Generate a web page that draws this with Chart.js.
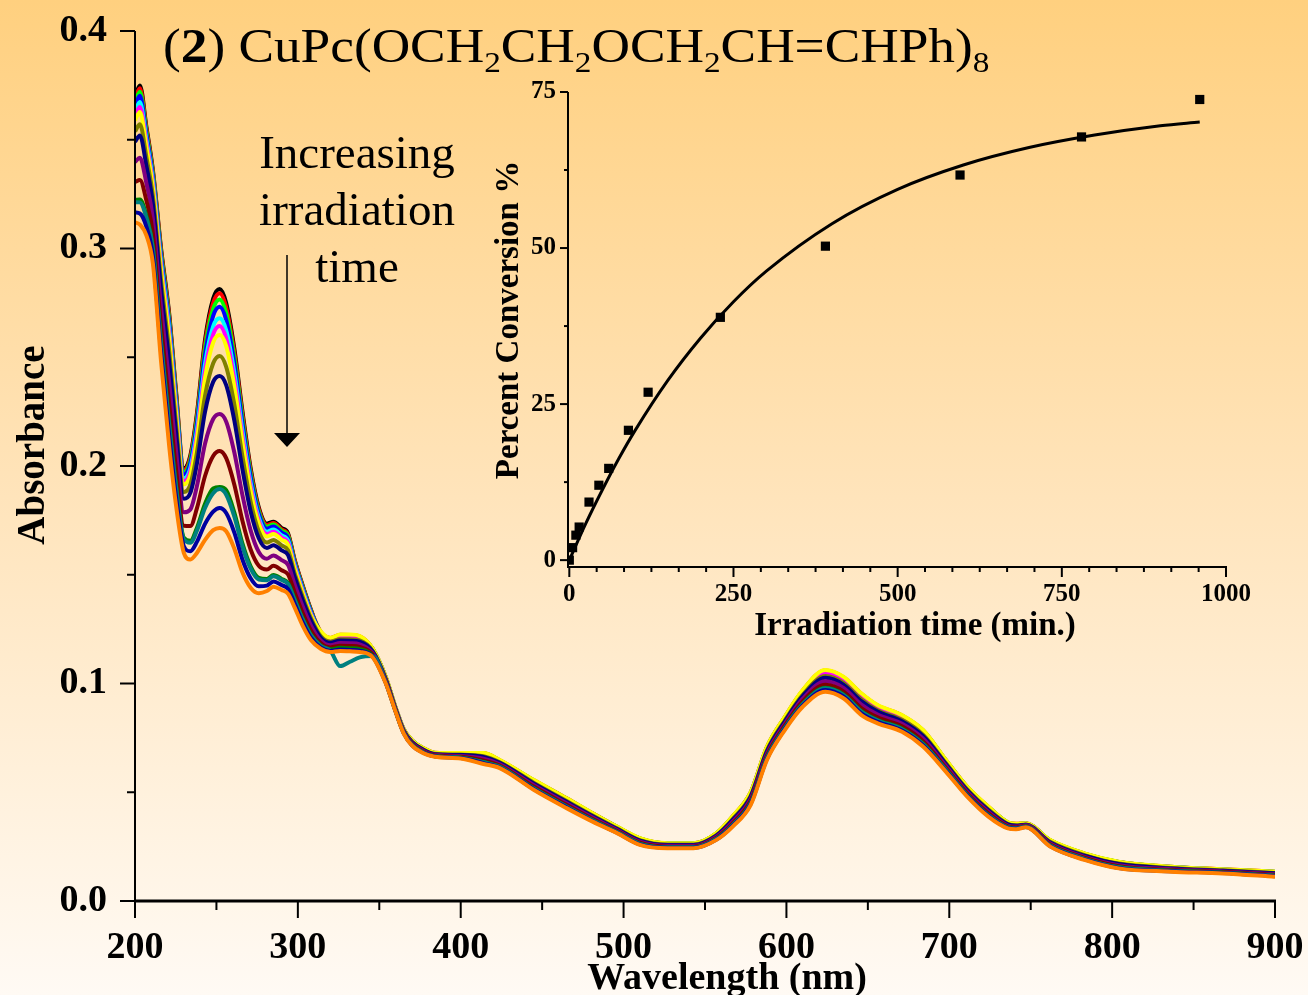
<!DOCTYPE html>
<html lang="en">
<head>
<meta charset="UTF-8">
<title>CuPc photolysis - UV/Vis spectra</title>
<script src="https://cdn.jsdelivr.net/npm/chart.js"></script>
<style>
  html, body { margin: 0; padding: 0; }
  body {
    width: 1308px; height: 995px; overflow: hidden; position: relative;
    background: linear-gradient(to bottom, #ffd07f 0%, #ffe4bb 50%, #fffaf4 100%);
  }
  canvas { position: absolute; left: 0; top: 0; }
</style>
</head>
<body>
<canvas id="spectraChart" width="1308" height="995"></canvas>
<canvas id="insetChart" width="1308" height="995"></canvas>
<script>
// ---- spectra (absorbance vs wavelength, one array per irradiation step) ----
const wavelengths = [200, 203, 207, 211, 216, 221, 225, 230, 234, 238, 243, 248, 252, 256, 261, 266, 271, 276, 281, 285, 290, 294, 298, 303, 308, 314, 320, 326, 332, 338,
  346, 354, 360, 365, 370, 377, 384, 400, 414, 424, 445, 465, 481, 496, 510, 527, 543, 557, 567, 578, 588, 599, 610, 624, 635, 646, 656, 671, 684, 698, 711, 724, 736, 741, 747, 762, 783, 804, 836, 868, 900];

const absBlack = [.370, .375, .356, .336, .300, .270, .236, .199, .205, .224, .258, .277, .2814, .275, .254, .225, .199, .181, .1735, .1744, .1715, .169, .157, .145, .134, .1225, .1198, .1211, .1210, .1204,
  .1152, .1024, .0886, .0786, .0735, .0699, .0678, .0675, .0671, .0641, .0547, .0464, .0397, .0336, .0283, .0262, .0262, .0306, .0381, .0489, .0697, .0835, .0955, .1043, .1012, .0936, .0885, .0840, .0771, .0638, .0517, .0425, .0357, .0350, .0354, .0274, .0213, .0175, .0154, .0142, .0131];
const absRed = [.3688, .3737, .355, .3351, .2990, .2688, .2349, .1982, .2040, .2227, .2562, .2749, .2794, .2729, .2522, .2235, .1979, .1802, .1729, .1738, .1709, .1684, .1566, .1446, .1337, .1238, .1209, .1224, .1223, .1217,
  .1159, .1029, .0890, .0790, .0740, .0703, .0682, .0680, .0679, .0647, .0555, .0472, .0403, .0341, .0288, .0266, .0266, .0311, .0389, .0499, .0708, .0846, .0968, .1060, .1029, .0953, .0899, .0853, .0784, .0647, .0525, .0433, .0361, .0355, .0357, .0279, .0218, .0180, .0158, .0146, .0135];
const absLime = [.3674, .3721, .3538, .3341, .2977, .2673, .2336, .1972, .2028, .2211, .2539, .2722, .2766, .2703, .2499, .2217, .1965, .1792, .1721, .1731, .1702, .1678, .1560, .1442, .1334, .1236, .1207, .1222, .1222, .1215,
  .1158, .1029, .0889, .0789, .0739, .0702, .0681, .0679, .0678, .0646, .0554, .0471, .0402, .0341, .0288, .0265, .0265, .0311, .0388, .0497, .0706, .0844, .0967, .1058, .1027, .0951, .0897, .0852, .0783, .0646, .0524, .0432, .0361, .0354, .0356, .0279, .0218, .0180, .0157, .0145, .0134];
const absBlue = [.3657, .3702, .3523, .3328, .2961, .2654, .2320, .1961, .2014, .2192, .2511, .2690, .2732, .2671, .2471, .2195, .1949, .1780, .1712, .1722, .1694, .1669, .1554, .1436, .1330, .1234, .1205, .1219, .1219, .1213,
  .1157, .1028, .0889, .0789, .0738, .0701, .0681, .0678, .0676, .0645, .0553, .0470, .0401, .0340, .0287, .0264, .0264, .0310, .0386, .0496, .0704, .0842, .0964, .1055, .1024, .0948, .0895, .0849, .0780, .0644, .0523, .0431, .0360, .0353, .0356, .0278, .0217, .0179, .0156, .0145, .0133];
const absCyan = [.3630, .3673, .3500, .3308, .2938, .2627, .2296, .1943, .1992, .2163, .2470, .2642, .2679, .2624, .2430, .2161, .1924, .1763, .1698, .1708, .1681, .1657, .1544, .1428, .1323, .1230, .1202, .1216, .1216, .1209,
  .1155, .1026, .0888, .0788, .0737, .0700, .0680, .0677, .0674, .0644, .0550, .0467, .0399, .0338, .0285, .0263, .0263, .0308, .0384, .0493, .0702, .0840, .0961, .1050, .1019, .0943, .0891, .0846, .0777, .0642, .0520, .0428, .0359, .0352, .0355, .0276, .0215, .0177, .0155, .0144, .0132];
const absMagenta = [.3610, .3651, .3483, .3293, .2919, .2605, .2278, .1930, .1976, .2141, .2437, .2605, .2644, .2587, .2397, .2135, .1905, .1749, .1687, .1698, .1671, .1647, .1536, .1421, .1318, .1228, .1200, .1213, .1213, .1207,
  .1154, .1025, .0887, .0787, .0736, .0699, .0679, .0676, .0672, .0642, .0549, .0466, .0398, .0337, .0284, .0262, .0262, .0307, .0383, .0491, .0700, .0838, .0958, .1047, .1016, .0940, .0888, .0843, .0774, .0640, .0519, .0427, .0358, .0351, .0354, .0275, .0214, .0176, .0154, .0143, .0131];
const absYellow = [.3590, .3628, .3465, .3278, .2901, .2584, .2259, .1916, .1959, .2118, .2405, .2568, .2602, .2551, .2365, .2109, .1886, .1735, .1676, .1687, .1661, .1637, .1528, .1415, .1313, .124, .121, .1225, .1225, .1218,
  .116, .103, .089, .079, .074, .0703, .0682, .068, .068, .0648, .0556, .0473, .0404, .0342, .0289, .0266, .0266, .0312, .039, .050, .0709, .0847, .097, .1062, .1031, .0955, .0901, .0855, .0786, .0648, .0526, .0434, .0362, .0355, .0357, .028, .0219, .0181, .0158, .0146, .0135];
const absOlive = [.3538, .3571, .3420, .3240, .2854, .2529, .2212, .1881, .1916, .2061, .2322, .2472, .2506, .2456, .2282, .2043, .1836, .1699, .1648, .1660, .1635, .1612, .1508, .1398, .1301, .1218, .1192, .1204, .1203, .1198,
  .1149, .1022, .0884, .0784, .0733, .0697, .0677, .0673, .0666, .0638, .0543, .0460, .0393, .0334, .0280, .0260, .0260, .0303, .0377, .0483, .0692, .0830, .0948, .1034, .1003, .0927, .0877, .0833, .0764, .0633, .0513, .0421, .0354, .0348, .0352, .0272, .0211, .0172, .0152, .0141, .0129];
const absNavy = [.3491, .3520, .3380, .3205, .2813, .2480, .2169, .1850, .1877, .2010, .2249, .2387, .2414, .2372, .2209, .1984, .1792, .1668, .1623, .1636, .1612, .1590, .1491, .1383, .1290, .1211, .1187, .1198, .1197, .1192,
  .1146, .1019, .0883, .0783, .0731, .0695, .0675, .0671, .0662, .0635, .0539, .0456, .0390, .0331, .0278, .0258, .0258, .0301, .0373, .0479, .0687, .0825, .0942, .1026, .0995, .0919, .0871, .0827, .0758, .0629, .0509, .0417, .0352, .0346, .0351, .0269, .0208, .0170, .0150, .0139, .0127];
const absPurple = [.3398, .3417, .3300, .3136, .2730, .2383, .2084, .1787, .1800, .1907, .2102, .2216, .2239, .2204, .2062, .1865, .1704, .1605, .1574, .1589, .1567, .1545, .1456, .1354, .1267, .1198, .1176, .1186, .1185, .1180,
  .1139, .1014, .0880, .0780, .0727, .0691, .0672, .0667, .0654, .0629, .0532, .0449, .0384, .0326, .0273, .0254, .0254, .0296, .0365, .0469, .0677, .0815, .0930, .1010, .0980, .0903, .0857, .0815, .0746, .0620, .0502, .0410, .0347, .0342, .0348, .0264, .0203, .0165, .0146, .0136, .0123];
const absMaroon = [.3306, .3315, .3220, .3068, .2646, .2285, .1999, .1725, .1724, .1805, .1954, .2046, .2069, .2036, .1914, .1747, .1616, .1541, .1524, .1541, .1521, .1501, .1420, .1324, .1245, .1186, .1166, .1174, .1173, .1168,
  .1133, .1010, .0876, .0776, .0723, .0687, .0669, .0663, .0646, .0623, .0525, .0442, .0377, .0322, .0268, .0250, .0250, .0291, .0357, .0460, .0668, .0806, .0918, .0994, .0964, .0887, .0844, .0803, .0734, .0611, .0495, .0403, .0343, .0338, .0345, .0260, .0199, .0160, .0142, .0133, .0119];
const absGreen = [.3224, .3225, .3150, .3007, .2574, .2200, .1925, .1670, .1656, .1715, .1826, .1897, .1903, .1889, .1786, .1643, .1539, .1486, .1481, .1499, .1481, .1462, .1390, .1298, .1225, .1174, .1157, .1164, .1162, .1158,
  .1127, .1005, .0874, .0774, .0720, .0684, .0666, .0660, .0639, .0618, .0518, .0435, .0372, .0317, .0264, .0247, .0247, .0287, .0351, .0452, .0659, .0797, .0907, .0980, .0950, .0873, .0832, .0792, .0723, .0604, .0488, .0396, .0339, .0335, .0342, .0255, .0194, .0156, .0139, .0130, .0116];
const absTeal = [.3213, .3212, .3140, .2999, .2563, .2188, .1915, .1662, .1647, .1702, .1807, .1875, .1894, .1868, .1767, .1628, .1528, .1478, .1475, .1493, .1476, .1457, .1385, .1295, .1222, .1173, .1150, .1080, .1100, .1120,
  .1126, .1005, .0873, .0773, .0719, .0684, .0666, .0659, .0638, .0617, .0517, .0434, .0371, .0317, .0263, .0247, .0247, .0286, .0350, .0450, .0658, .0796, .0905, .0978, .0948, .0871, .0830, .0790, .0721, .0603, .0487, .0395, .0338, .0334, .0342, .0255, .0194, .0155, .0139, .0130, .0116];
const absRoyal = [.3166, .3161, .3100, .2964, .2522, .2139, .1872, .1631, .1608, .1651, .1734, .1790, .1807, .1784, .1694, .1569, .1484, .1447, .1450, .1469, .1453, .1434, .1368, .1280, .1211, .1166, .1150, .1156, .1154, .1151,
  .1123, .1002, .0872, .0772, .0717, .0682, .0665, .0657, .0634, .0614, .0514, .0431, .0368, .0314, .0260, .0245, .0245, .0283, .0346, .0446, .0653, .0791, .0899, .0970, .0940, .0863, .0824, .0784, .0715, .0598, .0484, .0392, .0336, .0332, .0340, .0252, .0191, .0152, .0137, .0129, .0114];
const absOrange = [.312, .311, .306, .293, .248, .209, .183, .160, .157, .160, .166, .1705, .1715, .170, .162, .151, .144, .1415, .1425, .1445, .143, .1412, .135, .1265, .120, .116, .1145, .115, .1148, .1145,
  .112, .100, .087, .077, .0715, .068, .0663, .0655, .063, .0611, .051, .0427, .0365, .0312, .0258, .0243, .0243, .0281, .0342, .0441, .0648, .0786, .0893, .0962, .0932, .0855, .0817, .0778, .0709, .0594, .048, .0388, .0334, .033, .0339, .025, .0189, .015, .0135, .0127, .0112];

const spectraSeries = [absBlack, absRed, absLime, absBlue, absCyan, absMagenta, absYellow, absOlive,
  absNavy, absPurple, absMaroon, absGreen, absTeal, absRoyal, absOrange];
const spectraColors = ['#000000', '#ff0000', '#00ff00', '#0000ff', '#00ffff', '#ff00ff', '#ffff00', '#808000',
  '#000080', '#800080', '#800000', '#008000', '#008080', '#0000a0', '#ff8000'];

const wlTicks = [200, 300, 400, 500, 600, 700, 800, 900];
const wlMinorTicks = [250, 350, 450, 550, 650, 750, 850];
const absTicks = [0, 0.1, 0.2, 0.3, 0.4];
const absMinorTicks = [0.05, 0.15, 0.25, 0.35];

// ---- inset: conversion vs irradiation time ----
const irrTime = [0, 5, 10, 15, 30, 45, 60, 90, 120, 230, 390, 595, 780, 960];
const conversion = [0, 2.0, 4.0, 5.3, 9.3, 12.0, 14.7, 20.8, 26.9, 38.9, 50.3, 61.7, 67.8, 73.8];
const fitTime = [0, 25, 50, 75, 100, 150, 200, 250, 300, 400, 500, 600, 700, 800, 900, 960];
const fitConversion = [0, 5.85, 11.2, 16.2, 20.75, 28.8, 35.6, 41.4, 46.3, 53.9, 59.4, 63.3, 66.1, 68.1, 69.6, 70.2];
const timeTicks = [0, 250, 500, 750, 1000];
const convTicks = [0, 25, 50, 75];

// ---- annotation text ----
const titleParts = [
  { t: '(' }, { t: '2', bold: true }, { t: ') CuPc(OCH' }, { t: '2', sub: true }, { t: 'CH' }, { t: '2', sub: true },
  { t: 'OCH' }, { t: '2', sub: true }, { t: 'CH=CHPh)' }, { t: '8', sub: true }
];
const noteLines = ['Increasing', 'irradiation', 'time'];

const serif = "'Liberation Serif', 'Times New Roman', Times, serif";

function seg(ctx, x1, y1, x2, y2) {
  ctx.beginPath();
  ctx.moveTo(x1, y1);
  ctx.lineTo(x2, y2);
  ctx.stroke();
}

function drawRich(ctx, parts, x, y, size) {
  let cx = x;
  parts.forEach(p => {
    const fs = p.sub ? Math.round(size * 0.62) : size;
    ctx.font = `${p.bold ? 'bold ' : ''}${fs}px ${serif}`;
    ctx.fillText(p.t, cx, p.sub ? y + size * 0.2 : y);
    cx += ctx.measureText(p.t).width;
  });
}

// axes, ticks and labels of the main plot
const spectraFrame = {
  id: 'spectraFrame',
  afterDatasetsDraw(chart) {
    const { ctx, chartArea: a, scales: { x, y } } = chart;
    ctx.save();
    ctx.strokeStyle = '#000';
    ctx.fillStyle = '#000';
    ctx.lineWidth = 2;
    seg(ctx, a.left, a.top, a.left, a.bottom);
    absTicks.forEach(v => { const py = y.getPixelForValue(v); seg(ctx, a.left - 15, py, a.left, py); });
    absMinorTicks.forEach(v => { const py = y.getPixelForValue(v); seg(ctx, a.left - 8, py, a.left, py); });
    wlTicks.forEach(v => { const px = x.getPixelForValue(v); seg(ctx, px, a.bottom, px, a.bottom + 17); });
    wlMinorTicks.forEach(v => { const px = x.getPixelForValue(v); seg(ctx, px, a.bottom, px, a.bottom + 9); });
    ctx.lineWidth = 3;
    seg(ctx, a.left - 1, a.bottom, a.right + 1, a.bottom);

    ctx.font = `bold 38px ${serif}`;
    ctx.textAlign = 'right';
    ctx.textBaseline = 'middle';
    absTicks.forEach(v => ctx.fillText(v.toFixed(1), a.left - 28, y.getPixelForValue(v)));
    ctx.textAlign = 'center';
    ctx.textBaseline = 'alphabetic';
    wlTicks.forEach(v => ctx.fillText(String(v), x.getPixelForValue(v), 958));
    ctx.fillText('Wavelength (nm)', 727, 989);

    ctx.save();
    ctx.translate(44, 445);
    ctx.rotate(-Math.PI / 2);
    ctx.font = `bold 39px ${serif}`;
    ctx.fillText('Absorbance', 0, 0);
    ctx.restore();

    // compound label, set slightly wide
    ctx.save();
    ctx.textAlign = 'left';
    ctx.translate(163, 62);
    ctx.scale(1.11, 1);
    drawRich(ctx, titleParts, 0, 0, 48);
    ctx.restore();

    // irradiation note with arrow
    ctx.textAlign = 'center';
    ctx.font = `47px ${serif}`;
    noteLines.forEach((t, i) => ctx.fillText(t, 357, 168 + i * 57));
    ctx.lineWidth = 1.5;
    seg(ctx, 287, 255, 287, 434);
    ctx.beginPath();
    ctx.moveTo(274, 433);
    ctx.lineTo(300, 433);
    ctx.lineTo(287, 447);
    ctx.closePath();
    ctx.fill();
    ctx.restore();
  }
};

new Chart(document.getElementById('spectraChart'), {
  type: 'line',
  data: {
    // later irradiation steps are painted over earlier ones
    datasets: spectraSeries.map((vals, i) => ({
      data: wavelengths.map((w, k) => ({ x: w, y: vals[k] })),
      borderColor: spectraColors[i],
      borderWidth: 4,
      pointRadius: 0,
      cubicInterpolationMode: 'monotone',
      fill: false,
      order: spectraSeries.length - i
    }))
  },
  options: {
    responsive: false,
    devicePixelRatio: 1,
    animation: false,
    events: [],
    layout: { padding: { left: 135, right: 33, top: 31, bottom: 94 } },
    scales: {
      x: { type: 'linear', min: 200, max: 900, display: false },
      y: { type: 'linear', min: 0, max: 0.4, display: false }
    },
    plugins: { legend: { display: false }, tooltip: { enabled: false } }
  },
  plugins: [spectraFrame]
});

// axes, ticks and labels of the inset
const insetFrame = {
  id: 'insetFrame',
  afterDatasetsDraw(chart) {
    const { ctx, chartArea: a, scales: { x, y } } = chart;
    ctx.save();
    ctx.strokeStyle = '#000';
    ctx.fillStyle = '#000';
    ctx.lineWidth = 2;
    seg(ctx, a.left, a.top, a.left, a.bottom + 1);
    seg(ctx, a.left - 1, a.bottom, a.right + 1, a.bottom);
    convTicks.forEach((v, i) => {
      const py = y.getPixelForValue(v);
      seg(ctx, a.left - 8, py, a.left, py);
      if (i < convTicks.length - 1) {
        const pm = y.getPixelForValue((v + convTicks[i + 1]) / 2);
        seg(ctx, a.left - 4, pm, a.left, pm);
      }
    });
    timeTicks.forEach((v, i) => {
      const px = x.getPixelForValue(v);
      seg(ctx, px, a.bottom, px, a.bottom + 10);
      if (i < timeTicks.length - 1) {
        const step = (timeTicks[i + 1] - v) / 6;
        for (let k = 1; k < 6; k++) {
          const pm = x.getPixelForValue(v + k * step);
          seg(ctx, pm, a.bottom, pm, a.bottom + 5);
        }
      }
    });

    ctx.font = `bold 25px ${serif}`;
    ctx.textAlign = 'right';
    ctx.textBaseline = 'middle';
    convTicks.forEach(v => ctx.fillText(String(v), a.left - 12, y.getPixelForValue(v)));
    ctx.textAlign = 'center';
    ctx.textBaseline = 'alphabetic';
    timeTicks.forEach(v => ctx.fillText(String(v), x.getPixelForValue(v), 601));

    ctx.font = `bold 33px ${serif}`;
    ctx.fillText('Irradiation time (min.)', 915, 635);
    ctx.save();
    ctx.translate(518, 320);
    ctx.rotate(-Math.PI / 2);
    ctx.fillText('Percent Conversion %', 0, 0);
    ctx.restore();
    ctx.restore();
  }
};

new Chart(document.getElementById('insetChart'), {
  type: 'scatter',
  data: {
    datasets: [
      {
        data: irrTime.map((t, k) => ({ x: t, y: conversion[k] })),
        pointStyle: 'rect',
        pointRadius: 6.5,
        pointBackgroundColor: '#000',
        pointBorderWidth: 0,
        showLine: false
      },
      {
        type: 'line',
        data: fitTime.map((t, k) => ({ x: t, y: fitConversion[k] })),
        borderColor: '#000',
        borderWidth: 3,
        pointRadius: 0,
        cubicInterpolationMode: 'monotone',
        fill: false
      }
    ]
  },
  options: {
    responsive: false,
    devicePixelRatio: 1,
    animation: false,
    events: [],
    layout: { padding: { left: 568, right: 82, top: 92, bottom: 428 } },
    scales: {
      x: { type: 'linear', min: -2, max: 1000, display: false },
      y: { type: 'linear', min: -1.1, max: 75, display: false }
    },
    plugins: { legend: { display: false }, tooltip: { enabled: false } }
  },
  plugins: [insetFrame]
});
</script>
</body>
</html>
